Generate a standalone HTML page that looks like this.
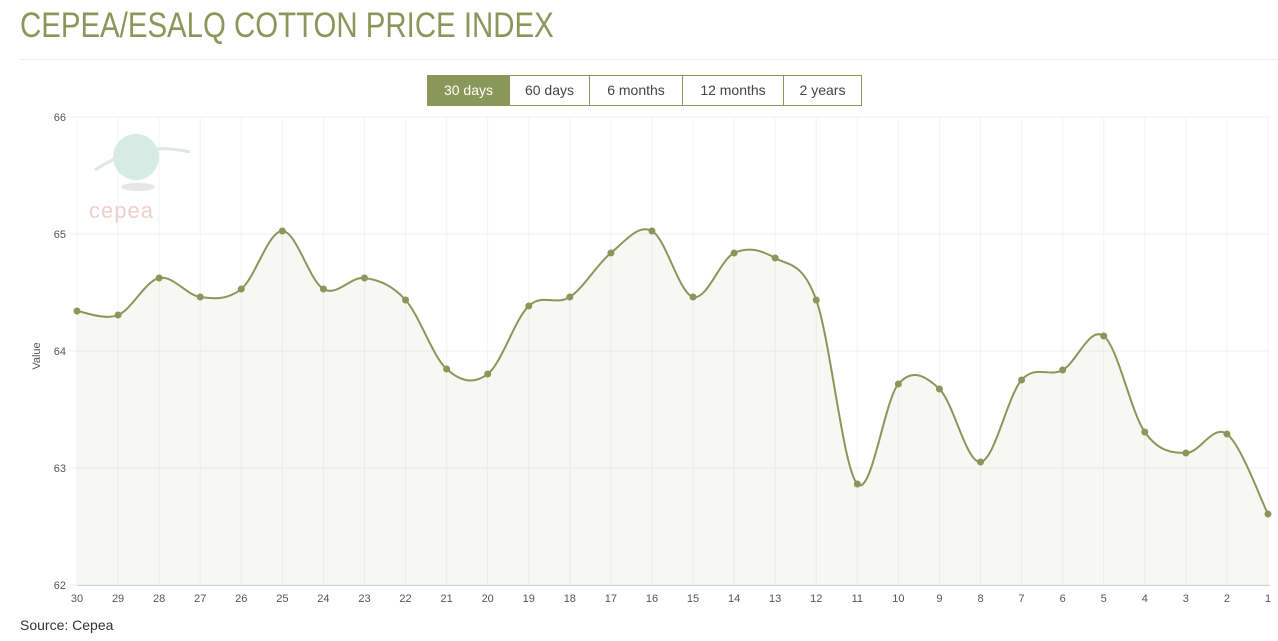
<!DOCTYPE html>
<html><head><meta charset="utf-8"><style>
body{margin:0;background:#fff;width:1278px;height:641px;overflow:hidden;font-family:"Liberation Sans",sans-serif;position:relative}
.title{position:absolute;left:20px;top:6px;font-size:35px;color:#8b975a;transform:scaleX(0.84);transform-origin:0 0;white-space:nowrap;letter-spacing:0}
.hr{position:absolute;left:20px;right:0;top:59px;height:1px;background:#ececec}
.btns{position:absolute;left:427px;top:75px;display:flex;border:1px solid #8b975a;height:29px}
.btns div{font-size:14px;color:#444;line-height:29px;border-left:1px solid #8b975a;text-align:center}
.btns div:first-child{border-left:none;background:#8b975a;color:#fff}
.src{position:absolute;left:20px;top:617px;font-size:14px;color:#333}
</style></head><body>
<div class="title">CEPEA/ESALQ COTTON PRICE INDEX</div>
<div class="hr"></div>
<div class="btns"><div style="width:81px">30 days</div><div style="width:79px">60 days</div><div style="width:92px">6 months</div><div style="width:100px">12 months</div><div style="width:77px">2 years</div></div>
<svg id="c" width="1278" height="641" style="position:absolute;left:0;top:0" font-family="Liberation Sans, sans-serif"></svg>
<div class="src">Source: Cepea</div>
<script>
var ys=[311,315,278,297,289,231,289,278,300,369,374,306,297,253,231,297,253,258,300,484,384,389,462,380,370,336,432,453,434,514];
var x0=77,dx=(1268-77)/29,s='';
for(var i=0;i<30;i++){var x=x0+i*dx;s+='<line x1="'+x+'" y1="117" x2="'+x+'" y2="585" stroke="#f3f3f3"/>';
s+='<text x="'+x+'" y="602" font-size="11" fill="#555" text-anchor="middle">'+(30-i)+'</text>';}
for(var k=0;k<5;k++){var y=117+k*117;s+='<line x1="70" y1="'+y+'" x2="1270" y2="'+y+'" stroke="#efefef"/>';
s+='<text x="66" y="'+(y+4)+'" font-size="11" fill="#555" text-anchor="end">'+(66-k)+'</text>';}
s+='<text x="40" y="356" font-size="11" fill="#555" text-anchor="middle" transform="rotate(-90 40 356)">Value</text>';
s+='<circle cx="136" cy="157" r="23" fill="#d5ebe4"/><ellipse cx="138" cy="187" rx="17" ry="4" fill="#e6e6e6"/><path d="M95 170 Q140 140 190 152" stroke="#dde8e4" stroke-width="3" fill="none"/><text x="89" y="218" font-size="22" fill="#efcfcb" letter-spacing="1">cepea</text>';
var P=ys.map(function(y,i){return [x0+i*dx,y]});
var d='M'+P[0][0]+' '+P[0][1];
for(var i=0;i<29;i++){var p0=P[Math.max(i-1,0)],p1=P[i],p2=P[i+1],p3=P[Math.min(i+2,29)];
var t=0.17;d+=' C'+(p1[0]+(p2[0]-p0[0])*t)+' '+(p1[1]+(p2[1]-p0[1])*t)+' '+(p2[0]-(p3[0]-p1[0])*t)+' '+(p2[1]-(p3[1]-p1[1])*t)+' '+p2[0]+' '+p2[1];}
s+='<path d="'+d+' L1268 585 L77 585 Z" fill="#8b975a" fill-opacity="0.07"/>';
s+='<path d="'+d+'" fill="none" stroke="#8b975a" stroke-width="2"/>';
P.forEach(function(p){s+='<circle cx="'+p[0]+'" cy="'+p[1]+'" r="3.5" fill="#8b975a"/>'});
s+='<line x1="77" y1="585.5" x2="1270" y2="585.5" stroke="#ccd6eb"/>';
document.getElementById('c').innerHTML=s;
</script>
</body></html>
